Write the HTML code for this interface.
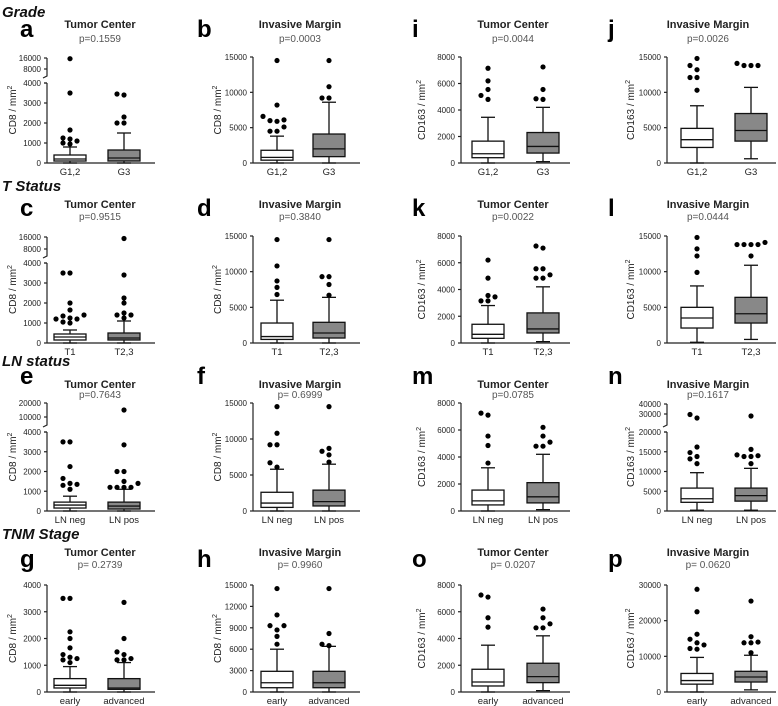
<!DOCTYPE html>
<html><head><meta charset="utf-8">
<style>
body{margin:0;background:#fff;}
svg{display:block;font-family:"Liberation Sans",Arial,sans-serif;}
</style></head>
<body>
<svg id="fig" width="778" height="706" viewBox="0 0 778 706"></svg>
<script>
// ---- data ----
const aBox1=[0,100,200,400,800], aBox2=[0,100,250,650,1500];
const aOut1=[1250,1100,950,1000,1200,1650,3500,15500], aOut2=[2300,2000,2000,3450,3400];
const bBox1=[0,400,800,1800,3800], bBox2=[0,900,2000,4100,8600];
const bOut1=[4500,4500,5100,5900,6000,6100,6600,8200,14500], bOut2=[9200,9200,10800,14500];
const iBox1=[0,400,700,1650,3450], iBox2=[100,750,1250,2300,4200];
const iOut1=[4800,5100,5550,6200,7150], iOut2=[4800,4850,5550,7250];
const jBox1=[0,2200,3300,4900,8100], jBox2=[600,3100,4600,7000,10700];
const jOut1=[10300,12100,12100,13200,13800,14800], jOut2=[13800,13800,13800,14100];
const cBox1=[0,150,300,450,650], cBox2=[0,150,250,500,1100];
const cOut1=[1000,1050,1200,1200,1250,1350,1400,1650,2000,3500,3500], cOut2=[1250,1400,1400,1500,2000,2250,3400,15000];
const dBox1=[0,500,900,2800,6000], dBox2=[0,700,1400,2900,6400];
const dOut1=[6800,7800,8700,10800,14500], dOut2=[6700,8200,9300,9300,14500];
const kBox1=[0,350,650,1400,2800], kBox2=[100,750,1050,2250,4200];
const kOut1=[3150,3150,3450,3550,4850,6200], kOut2=[4850,4850,5100,5550,5550,7100,7250];
const lBox1=[100,2100,3500,5000,8000], lBox2=[500,2800,4100,6400,10900];
const lOut1=[9900,12200,13200,14800], lOut2=[12200,13800,13800,13800,13800,14100];
const eBox1=[0,150,300,450,750], eBox2=[0,100,250,450,1100];
const eOut1=[1100,1300,1350,1400,1650,2250,3500,3500], eOut2=[1200,1200,1200,1200,1400,1500,2000,2000,3350,15000];
const fBox1=[0,500,1100,2600,5800], fBox2=[0,700,1300,2900,6500];
const fOut1=[6100,6700,9200,9200,10800,14500], fOut2=[6800,7800,8300,8700,14500];
const mBox1=[0,450,750,1550,3200], mBox2=[100,600,1050,2100,4200];
const mOut1=[3550,4850,5550,7100,7250], mOut2=[4800,4800,5100,5550,6200];
const nBox1=[200,2200,3100,5800,9700], nBox2=[200,2500,3900,5800,10800];
const nOut1=[12000,13200,13800,14800,16200,26000,29500], nOut2=[12000,13800,13800,14000,14200,15600,28000];
const gBox1=[0,150,250,500,950], gBox2=[0,100,150,500,1100];
const gOut1=[1100,1200,1250,1300,1400,1650,2000,2250,3500,3500], gOut2=[1200,1200,1250,1400,1500,2000,3350];
const hBox1=[0,600,1300,2900,6000], hBox2=[0,600,1300,2900,6400];
const hOut1=[6700,7800,8700,9300,9300,10800,14500], hOut2=[6500,6700,8200,14500];
const oBox1=[0,450,750,1700,3500], oBox2=[100,700,1150,2150,4200];
const oOut1=[4850,5550,7100,7250], oOut2=[4800,4800,5100,5550,6200];
const pBox1=[0,2200,3200,5200,9700], pBox2=[600,2800,4200,5800,10300];
const pOut1=[12000,12200,13200,13800,14800,16200,22500,28800], pOut2=[11000,13800,13800,14000,15500,25500];

const ticks4k=[0,1000,2000,3000,4000], ticks8k=[0,2000,4000,6000,8000], ticks15k=[0,5000,10000,15000];
const ticks15k3=[0,3000,6000,9000,12000,15000], ticks20k=[0,5000,10000,15000,20000], ticks30k=[0,10000,20000,30000];
const upA=[8000,16000], upE=[10000,20000], upN=[30000,40000];
const pVals=["p=0.1559","p=0.0003","p=0.0044","p=0.0026","p=0.9515","p=0.3840","p=0.0022","p=0.0444",
 "p=0.7643","p= 0.6999","p=0.0785","p=0.1617","p= 0.2739","p= 0.9960","p= 0.0207","p= 0.0620"];
const cats=[["G1,2","G3"],["T1","T2,3"],["LN neg","LN pos"],["early","advanced"]];

// ---- layout ----
const rows=[{y0:163,top:57,title:28,p:42,letter:37},{y0:343,top:236,title:208,p:220,letter:216},
 {y0:511,top:403,title:388,p:398,letter:384},{y0:692,top:585,title:556,p:568,letter:567}];
const cols=[{ax:47,c1:70,c2:124,end:155,let:20,tx:100,yt:12},{ax:253,c1:277,c2:329,end:360,let:197,tx:300,yt:217},
 {ax:461,c1:488,c2:543,end:570,let:412,tx:513,yt:421},{ax:667,c1:697,c2:751,end:776,let:608,tx:708,yt:630}];
const panels=[
 {L:'a',r:0,c:0,b1:aBox1,b2:aBox2,o1:aOut1,o2:aOut2,t:ticks4k,up:upA,upPx:[69,58],lowTop:83,upTop:58,upBot:76},
 {L:'b',r:0,c:1,b1:bBox1,b2:bBox2,o1:bOut1,o2:bOut2,t:ticks15k},
 {L:'i',r:0,c:2,b1:iBox1,b2:iBox2,o1:iOut1,o2:iOut2,t:ticks8k},
 {L:'j',r:0,c:3,b1:jBox1,b2:jBox2,o1:jOut1,o2:jOut2,t:ticks15k},
 {L:'c',r:1,c:0,b1:cBox1,b2:cBox2,o1:cOut1,o2:cOut2,t:ticks4k,up:upA,upPx:[249,237],lowTop:263,upTop:237,upBot:256},
 {L:'d',r:1,c:1,b1:dBox1,b2:dBox2,o1:dOut1,o2:dOut2,t:ticks15k},
 {L:'k',r:1,c:2,b1:kBox1,b2:kBox2,o1:kOut1,o2:kOut2,t:ticks8k},
 {L:'l',r:1,c:3,b1:lBox1,b2:lBox2,o1:lOut1,o2:lOut2,t:ticks15k},
 {L:'e',r:2,c:0,b1:eBox1,b2:eBox2,o1:eOut1,o2:eOut2,t:ticks4k,up:upE,upPx:[417,403],lowTop:432,upTop:403,upBot:425},
 {L:'f',r:2,c:1,b1:fBox1,b2:fBox2,o1:fOut1,o2:fOut2,t:ticks15k},
 {L:'m',r:2,c:2,b1:mBox1,b2:mBox2,o1:mOut1,o2:mOut2,t:ticks8k},
 {L:'n',r:2,c:3,b1:nBox1,b2:nBox2,o1:nOut1,o2:nOut2,t:ticks20k,up:upN,upPx:[414,404],lowTop:432,upTop:404,upBot:425},
 {L:'g',r:3,c:0,b1:gBox1,b2:gBox2,o1:gOut1,o2:gOut2,t:ticks4k},
 {L:'h',r:3,c:1,b1:hBox1,b2:hBox2,o1:hOut1,o2:hOut2,t:ticks15k3},
 {L:'o',r:3,c:2,b1:oBox1,b2:oBox2,o1:oOut1,o2:oOut2,t:ticks8k},
 {L:'p',r:3,c:3,b1:pBox1,b2:pBox2,o1:pOut1,o2:pOut2,t:ticks30k}
];
const headings=[["Grade",17],["T Status",191],["LN status",366],["TNM Stage",539]];

const NS="http://www.w3.org/2000/svg", svg=document.getElementById('fig');
function mk(tag,at,parent,txt){const e=document.createElementNS(NS,tag);for(const k in at)e.setAttribute(k,at[k]);if(txt!==undefined)e.textContent=txt;(parent||svg).appendChild(e);return e;}

headings.forEach(h=>{
 const t=mk('text',{x:2,y:h[1],'font-size':15,'font-weight':'bold','font-style':'italic',fill:'#111'},svg,h[0]);
 
 
});

panels.forEach((P,pi)=>{
 const R=rows[P.r],C=cols[P.c];
 const g=mk('g',{});
 
 
 const lowMax=P.t[P.t.length-1], lowTop=P.lowTop||R.top;
 const y=v=>{
  if(P.up && v>lowMax){const [v1,v2]=P.up,[p1,p2]=P.upPx;return p1+(v-v1)*(p2-p1)/(v2-v1);}
  return R.y0-(v/lowMax)*(R.y0-lowTop);
 };
 // letter, title, p
 const lt=mk('text',{x:C.let,y:R.letter,'font-size':24,'font-weight':'bold'},g,P.L);
 
 
 const tt=mk('text',{x:C.tx,y:R.title,'font-size':11,'font-weight':'bold','text-anchor':'middle',fill:'#222'},g,P.c%2===0?'Tumor Center':'Invasive Margin');
 
 
 const pt=mk('text',{x:C.tx,y:R.p,'font-size':10,'text-anchor':'middle',fill:'#555'},g,pVals[pi]);
 
 
 // y title
 const yl=mk('text',{transform:`translate(${C.yt+4},${(R.y0+R.top)/2}) rotate(-90)`,'font-size':10,'text-anchor':'middle',fill:'#222'},g);
 
 
 yl.appendChild(document.createTextNode(P.c<2?'CD8 / mm':'CD163 / mm'));
 mk('tspan',{dy:-4,'font-size':7},yl,'2');
 // axes
 const ax=mk('g',{stroke:'#222','stroke-width':1.2,fill:'none'},g);
 
 
 mk('line',{x1:C.ax,y1:R.y0,x2:C.ax,y2:lowTop},ax);
 mk('line',{x1:C.ax,y1:R.y0,x2:C.end,y2:R.y0},ax);
 const tickList=P.t.map(v=>[v,y(v)]);
 if(P.up){
  mk('path',{d:`M${C.ax-3},${lowTop} L${C.ax},${lowTop}`},ax);
  mk('path',{d:`M${C.ax},${P.upTop} L${C.ax},${P.upBot} L${C.ax-4},${P.upBot+2}`},ax);
  P.up.forEach(v=>tickList.push([v,y(v)]));
 }
 tickList.forEach(([v,py])=>{
  mk('line',{x1:C.ax-3,y1:py,x2:C.ax,y2:py},ax);
  const tl=mk('text',{x:C.ax-6,y:py+3,'font-size':8,'text-anchor':'end',fill:'#222',stroke:'none'},g,String(v));
  
  
 });
 // boxes
 [[P.b1,P.o1,C.c1,'#fff'],[P.b2,P.o2,C.c2,'#888']].forEach(([b,o,cx,fill],gi)=>{
  const bg=mk('g',{stroke:'#111','stroke-width':1.3},g);
  
  
  const w=32,cap=7;
  mk('line',{x1:cx,y1:y(b[4]),x2:cx,y2:y(b[3])},bg);
  mk('line',{x1:cx,y1:y(b[0]),x2:cx,y2:y(b[1])},bg);
  mk('line',{x1:cx-cap,y1:y(b[4]),x2:cx+cap,y2:y(b[4])},bg);
  mk('line',{x1:cx-cap,y1:y(b[0]),x2:cx+cap,y2:y(b[0])},bg);
  mk('rect',{x:cx-w/2,y:y(b[3]),width:w,height:Math.max(1,y(b[1])-y(b[3])),fill:fill},bg);
  mk('line',{x1:cx-w/2,y1:y(b[2]),x2:cx+w/2,y2:y(b[2])},bg);
  const placed=[];
  o.slice().sort((p,q)=>p-q).forEach(v=>{
   const py=y(v);
   const offs=[0,-7,7,-14,14,-21,21];
   let dx=0;
   for(const d of offs){if(!placed.some(q=>Math.abs(q[1]-py)<5&&Math.abs(q[0]-d)<6)){dx=d;break;}}
   placed.push([dx,py]);
   const dot=mk('circle',{cx:cx+dx,cy:py,r:2.6,fill:'#000',stroke:'none'},g);
   
   
  });
  const xl=mk('text',{x:cx,y:R.y0+12,'font-size':9.5,'text-anchor':'middle',fill:'#222'},g,cats[P.r][gi]);
  
  
 });
});
</script>
</body></html>
